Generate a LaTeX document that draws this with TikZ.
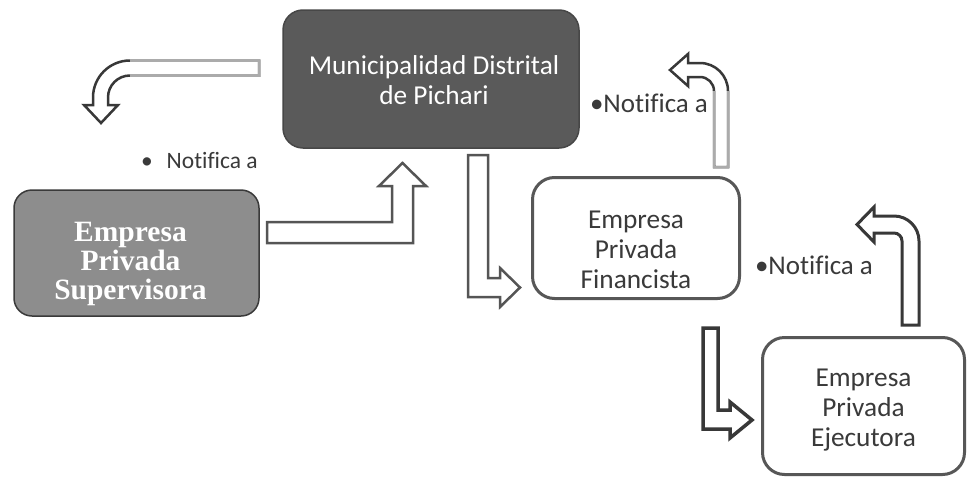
\documentclass[tikz,border=0pt]{standalone}
\usepackage{fontspec}
\setmainfont{Carlito}[Ligatures=NoCommon]
\newfontfamily\supfont{Liberation Serif}
\definecolor{munfill}{HTML}{5A5A5A}
\definecolor{munline}{HTML}{474747}
\definecolor{supfill}{HTML}{8D8D8D}
\definecolor{supline}{HTML}{3A3A3A}
\definecolor{boxline}{HTML}{575757}
\definecolor{boxtextc}{HTML}{3A3A3A}
\definecolor{arrowdark}{HTML}{383838}
\definecolor{arrowmid}{HTML}{555555}
\definecolor{arrowlight}{HTML}{ABABAB}
\tikzset{every node/.style={inner sep=0pt, outer sep=0pt}}
\tikzset{
    munbox/.style={rectangle, rounded corners=20pt, fill=munfill, draw=munline, line width=1.5pt},
    supbox/.style={rectangle, rounded corners=18pt, fill=supfill, draw=supline, line width=1.5pt},
    whitebox/.style={rectangle, rounded corners=22pt, fill=white, draw=boxline, line width=3pt},
    boxtext/.style={align=center, text=boxtextc, font=\fontsize{27.3}{30}\selectfont},
    notelabel/.style={anchor=base west, text=boxtextc, font=\fontsize{27}{30}\selectfont},
    blockarrow/.style={fill=white, line width=2.5pt, line join=miter},
    lightedge/.style={draw=arrowlight, line width=2.5pt}
}

\begin{document}
\begin{tikzpicture}[x=1pt, y=-1pt]
    \useasboundingbox (0,0) rectangle (968,479);
    \fill[white] (0,0) rectangle (968,479);

    % boxes
    \node (mun) at (431,79) [munbox, minimum width=296, minimum height=138] {};
    \node (sup) at (136.5,253) [supbox, minimum width=245, minimum height=126] {};
    \node (fin) at (636,238) [whitebox, minimum width=207, minimum height=121] {};
    \node (eje) at (863.5,406) [whitebox, minimum width=202, minimum height=137] {};

    \node (muntext) at ([xshift=3pt, yshift=-1pt]mun.center) [boxtext, text=white] {Municipalidad Distrital\\de Pichari};
    \node (suptext) at ([xshift=-6pt, yshift=-11pt]sup.center) [align=center, text=white, font=\supfont\bfseries\fontsize{29.5}{29}\selectfont] {Empresa\\Privada\\Supervisora};
    \node (fintext) at ([yshift=-11.5pt]fin.center) [boxtext] {Empresa\\Privada\\Financista};
    \node (ejetext) at ([yshift=-4pt]eje.center) [boxtext] {Empresa\\Privada\\Ejecutora};

    % labels
    \node (note1) at (141,168) [notelabel, font=\fontsize{23.5}{26}\selectfont] {•\hspace{14pt}Notifica a};
    \node (note2) at (590,112) [notelabel] {•Notifica a};
    \node (note3) at (755,274) [notelabel] {•Notifica a};

    % municipalidad -> supervisora
    \draw[blockarrow, draw=arrowdark] (259,60.5) -- (130,60.5) arc[start angle=270, end angle=180, radius=37]
        -- (93,105) -- (84,105) -- (101,123) -- (118,105) -- (108,105) -- (108,97.5)
        arc[start angle=180, end angle=270, radius=22] -- (259,75.5) -- cycle;
    \draw[lightedge] (130,60.5) -- (259,60.5) -- (259,75.5) -- (130,75.5);

    % supervisora -> municipalidad
    \draw[blockarrow, draw=arrowmid] (267,222) -- (392,222) -- (392,186) -- (379,186) -- (402.5,163)
        -- (426,186) -- (413,186) -- (413,243) -- (267,243) -- cycle;

    % municipalidad -> financista
    \draw[blockarrow, draw=arrowmid] (468,155) -- (488,155) -- (488,278) -- (500,278) -- (500,268)
        -- (520,287.5) -- (500,307) -- (500,297) -- (468,297) -- cycle;

    % financista -> municipalidad
    \draw[blockarrow, draw=arrowdark] (714,167) -- (728,167) -- (728,91) arc[start angle=360, end angle=270, radius=28]
        -- (688,63) -- (688,54) -- (670,70) -- (688,86) -- (688,77) -- (700,77)
        arc[start angle=270, end angle=360, radius=14] -- cycle;
    \draw[lightedge] (714,91) -- (714,167) -- (728,167) -- (728,91);

    % ejecutora -> financista
    \draw[blockarrow, draw=arrowdark, line width=3pt] (902,325) -- (919,325) -- (919,241) arc[start angle=360, end angle=270, radius=25]
        -- (874,216) -- (874,207) -- (857,224.5) -- (874,242) -- (874,233) -- (894,233)
        arc[start angle=270, end angle=360, radius=8] -- cycle;

    % financista -> ejecutora
    \draw[blockarrow, draw=arrowdark, line width=3.5pt] (703,328) -- (718,328) -- (718,410) -- (730,410) -- (730,402)
        -- (752,420) -- (730,438) -- (730,429) -- (703,429) -- cycle;
\end{tikzpicture}
\end{document}
